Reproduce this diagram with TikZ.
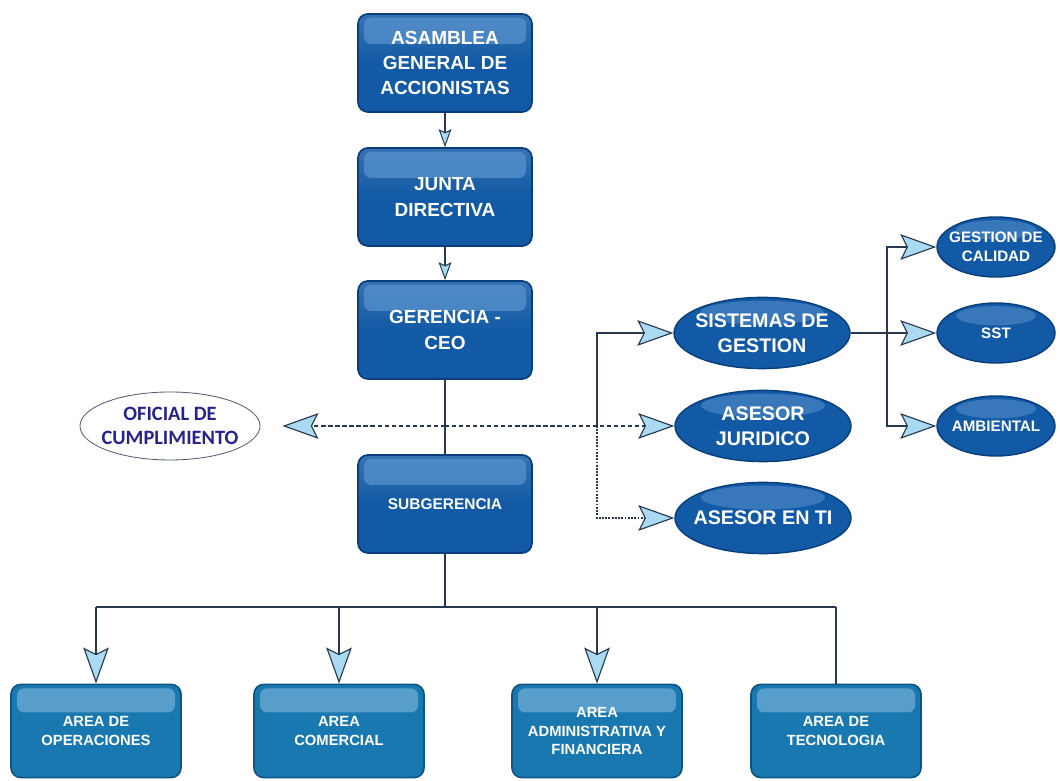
\documentclass[tikz,border=0pt]{standalone}
\usepackage{fontspec}
\setmainfont{Liberation Sans}
\newfontfamily\carlito{Carlito}
\usepackage{tikz}
\usetikzlibrary{calc, positioning, arrows.meta, shapes.geometric}
\definecolor{azulcaja}{RGB}{18,90,165}
\definecolor{azulborde}{RGB}{10,62,122}
\definecolor{azulbrillo}{RGB}{88,145,205}
\definecolor{tealcaja}{RGB}{25,120,175}
\definecolor{tealborde}{RGB}{15,85,132}
\definecolor{tealbrillo}{RGB}{110,172,212}
\definecolor{linea}{RGB}{40,56,78}
\definecolor{puntaclara}{RGB}{170,218,242}
\definecolor{textooficial}{RGB}{38,36,138}
\tikzset{cargo/.style={rectangle, rounded corners=7pt, draw=azulborde, line width=1.2pt,
   top color=azulcaja!85!white, bottom color=azulcaja, middle color=azulcaja,
   minimum width=4.35cm, minimum height=2.45cm, align=center, text=white,
   font=\bfseries\fontsize{13.5}{18}\selectfont,
   path picture={\fill[azulbrillo, opacity=0.75, rounded corners=5pt]
     ($(path picture bounding box.north west)+(0.15,-0.1)$) rectangle
     ($(path picture bounding box.north east)+(-0.15,-0.75)$);}},
 area/.style={cargo, draw=tealborde, top color=tealcaja, bottom color=tealcaja, middle color=tealcaja,
   minimum width=4.25cm, minimum height=2.33cm, font=\bfseries\fontsize{10.5}{13.5}\selectfont,
   path picture={\fill[tealbrillo, opacity=0.75, rounded corners=5pt]
     ($(path picture bounding box.north west)+(0.15,-0.1)$) rectangle
     ($(path picture bounding box.north east)+(-0.15,-0.7)$);}},
 elipse/.style={ellipse, draw=azulborde, line width=1pt, fill=azulcaja,
   inner xsep=-0.2cm, inner ysep=0pt,
   minimum width=4.4cm, minimum height=1.78cm, align=center, text=white,
   font=\bfseries\fontsize{14}{18}\selectfont,
   path picture={\fill[azulbrillo, opacity=0.55]
     ($(path picture bounding box.north)+(0,-0.38)$) ellipse (1.55 and 0.3);}},
 elipsita/.style={elipse, minimum width=2.95cm, minimum height=1.5cm,
   font=\bfseries\fontsize{10.8}{13.5}\selectfont,
   path picture={\fill[azulbrillo, opacity=0.55]
     ($(path picture bounding box.north)+(0,-0.32)$) ellipse (1.0 and 0.24);}},
 conector/.style={draw=linea, line width=1.3pt},
 flecha/.style={conector, -{Stealth[length=9mm, width=6.4mm, inset=1.6mm, fill=puntaclara, line width=0.8pt]}},
 flechita/.style={conector, -{Stealth[length=4.5mm, width=3.2mm, inset=0.8mm, fill=puntaclara, line width=0.7pt]}}
}

\begin{document}
\begin{tikzpicture}
 \useasboundingbox (0,0) rectangle (26.5,19.525);
 %Drawing Main Column
 \node[cargo] (asamblea) at (11.125,17.95) {ASAMBLEA\\GENERAL DE\\ACCIONISTAS};
 \node[cargo] (junta) at (11.125,14.6) {JUNTA\\DIRECTIVA};
 \node[cargo] (gerencia) at (11.125,11.275) {GERENCIA -\\CEO};
 \node[cargo, font=\bfseries\fontsize{11}{13.5}\selectfont] (subgerencia) at (11.125,6.925) {SUBGERENCIA};

 \draw[flechita] (asamblea) -- (junta);
 \draw[flechita] (junta) -- (gerencia);
 \draw[conector] (gerencia) -- (subgerencia);

 %Drawing Advisers
 \node[ellipse, draw=linea!80, line width=0.6pt, inner xsep=-0.2cm, inner ysep=0.1cm,
   minimum width=4.5cm, minimum height=1.7cm, align=center, text=textooficial,
   font=\carlito\bfseries\fontsize{14.5}{17}\selectfont]
   (oficial) at (4.25,8.875) {OFICIAL DE\\CUMPLIMIENTO};
 \node[elipse] (sistemas) at (19.05,11.2) {SISTEMAS DE\\GESTION};
 \node[elipse] (juridico) at (19.075,8.875) {ASESOR\\JURIDICO};
 \node[elipse] (ti) at (19.075,6.575) {ASESOR EN TI};

 \coordinate (eje) at (gerencia.south |- juridico.west);
 \coordinate (rama) at (14.925,8.875);
 \draw[flecha, densely dashed, shorten >=0.55cm] (eje) -- (oficial.east);
 \draw[flecha, densely dashed] (eje) -- (rama) -- (juridico.west);
 \draw[flecha] (rama) |- (sistemas.west);
 \draw[flecha, densely dotted] (rama) |- (ti.west);

 %Drawing Management Systems
 \node[elipsita] (calidad) at (24.9,13.35) {GESTION DE\\CALIDAD};
 \node[elipsita] (sst) at (24.9,11.2) {SST};
 \node[elipsita] (ambiental) at (24.9,8.875) {AMBIENTAL};

 \coordinate (nudo) at (22.175,11.2);
 \draw[flecha] (sistemas.east) -- (sst.west);
 \draw[flecha] (nudo) |- (calidad.west);
 \draw[flecha] (nudo) |- (ambiental.west);

 %Drawing Areas
 \node[area] (operaciones) at (2.4,1.25) {AREA DE\\OPERACIONES};
 \node[area] (comercial) at (8.475,1.25) {AREA\\COMERCIAL};
 \node[area] (administrativa) at (14.925,1.25) {AREA\\ADMINISTRATIVA Y\\FINANCIERA};
 \node[area] (tecnologia) at (20.9,1.25) {AREA DE\\TECNOLOGIA};

 \coordinate (barra) at (subgerencia.south |- 0,4.35);
 \draw[conector] (subgerencia) -- (barra);
 \draw[conector] (operaciones.north |- barra) -- (tecnologia.north |- barra);
 \draw[flecha] (operaciones.north |- barra) -- (operaciones);
 \draw[flecha] (comercial.north |- barra) -- (comercial);
 \draw[flecha] (administrativa.north |- barra) -- (administrativa);
 \draw[conector] (tecnologia.north |- barra) -- (tecnologia);

\end{tikzpicture}
\end{document}
